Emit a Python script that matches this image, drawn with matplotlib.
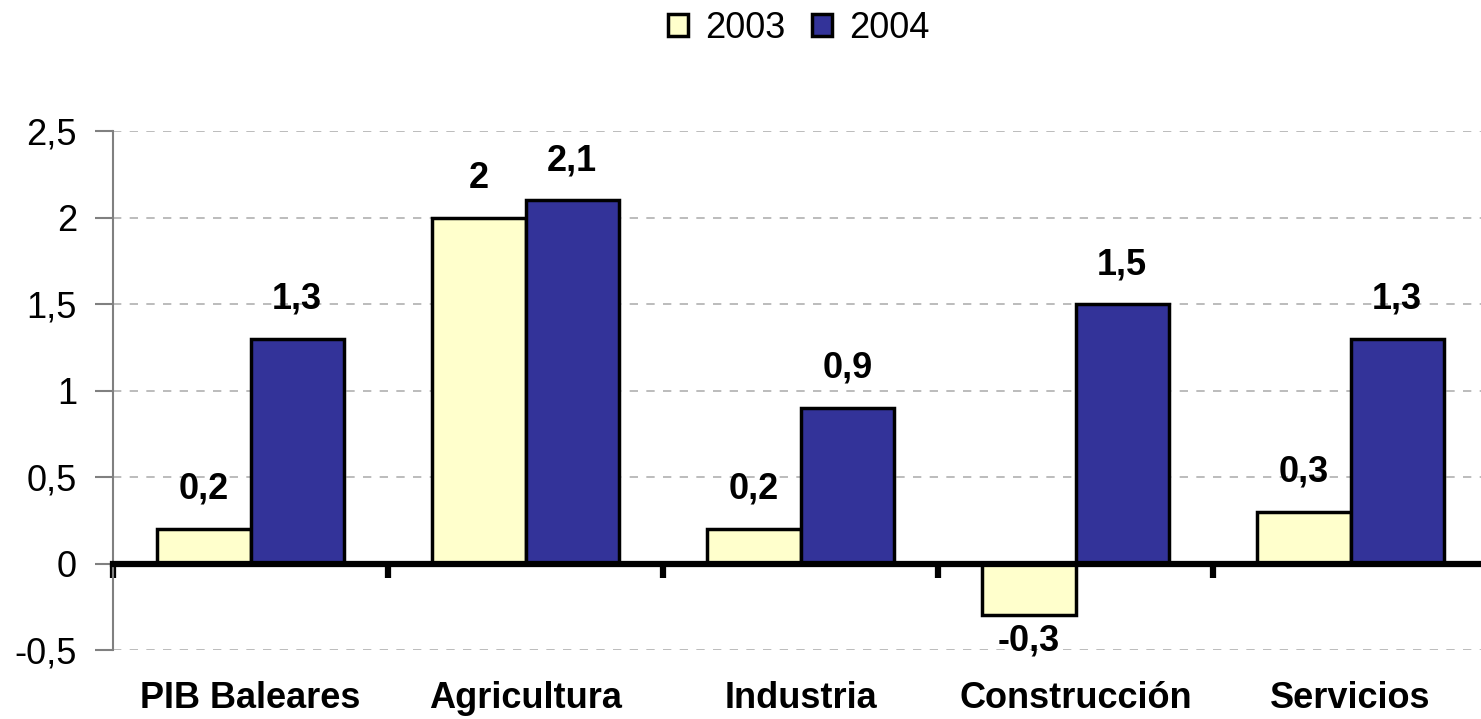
import matplotlib.pyplot as plt
import matplotlib.transforms as mtransforms
import numpy as np

categories = ["PIB Baleares", "Agricultura", "Industria", "Construcción", "Servicios"]
series_names = ["2003", "2004"]
values_2003 = [0.2, 2.0, 0.2, -0.3, 0.3]
values_2004 = [1.3, 2.1, 0.9, 1.5, 1.3]
yticks = [-0.5, 0, 0.5, 1, 1.5, 2, 2.5]
ytick_labels = ["-0,5", "0", "0,5", "1", "1,5", "2", "2,5"]

colors = ["#FFFFCC", "#333399"]

plt.rcParams['font.family'] = ['Liberation Sans', 'DejaVu Sans']

fig = plt.figure(figsize=(14.81, 7.19), dpi=100)
ax = fig.add_axes([113 / 1481, 1 - 650 / 719, 1375 / 1481, 519 / 719])

x = np.arange(len(categories))
w = 0.34
bars = []
for k, (vals, name) in enumerate(zip([values_2003, values_2004], series_names)):
    b = ax.bar(x + (k - 0.5) * w, vals, w, color=colors[k], edgecolor="black",
               linewidth=2.5, label=name, zorder=3)
    bars.append(b)
    for rect, v in zip(b, vals):
        txt = ("%g" % v).replace(".", ",")
        if v >= 0:
            ax.annotate(txt, (rect.get_x() + rect.get_width() / 2, v),
                        xytext=(0, 22), textcoords="offset pixels",
                        ha="center", va="bottom", fontsize=26, fontweight="bold")
        else:
            ax.annotate(txt, (rect.get_x() + rect.get_width() / 2, v),
                        xytext=(0, -8), textcoords="offset pixels",
                        ha="center", va="top", fontsize=26, fontweight="bold")

ax.set_xlim(-0.5, len(categories) - 0.5)
ax.set_ylim(-0.5, 2.5)

ax.set_yticks(yticks)
ax.set_yticklabels(ytick_labels, fontsize=26)
ax.tick_params(axis="y", direction="out", length=13, width=1.5, color="#808080", pad=13)
ax.yaxis.grid(True, linestyle=(0, (5, 5)), color="#b0b0b0", linewidth=1.2, zorder=0)

ax.spines["top"].set_visible(False)
ax.spines["right"].set_visible(False)
ax.spines["left"].set_color("#808080")
ax.spines["left"].set_linewidth(1.5)
ax.spines["bottom"].set_position(("data", 0))
ax.spines["bottom"].set_linewidth(4.5)
ax.spines["bottom"].set_zorder(4)
ax.set_xticks(np.arange(len(categories) + 1) - 0.5)
ax.set_xticklabels([])
ax.tick_params(axis="x", direction="out", length=10, width=4.5, color="black")

trans = mtransforms.blended_transform_factory(ax.transData, ax.transAxes)
for i, c in enumerate(categories):
    ax.text(i, -0.0925, c, transform=trans, ha="center", va="center",
            fontsize=26, fontweight="bold")

fig.legend(handles=bars, labels=series_names, loc="center",
           bbox_to_anchor=(799 / 1481, 1 - 28 / 719), ncol=2, frameon=False,
           fontsize=26, handlelength=0.55, handleheight=0.55, handletextpad=0.47,
           columnspacing=0.75)

fig.savefig("out.png", dpi=100)
